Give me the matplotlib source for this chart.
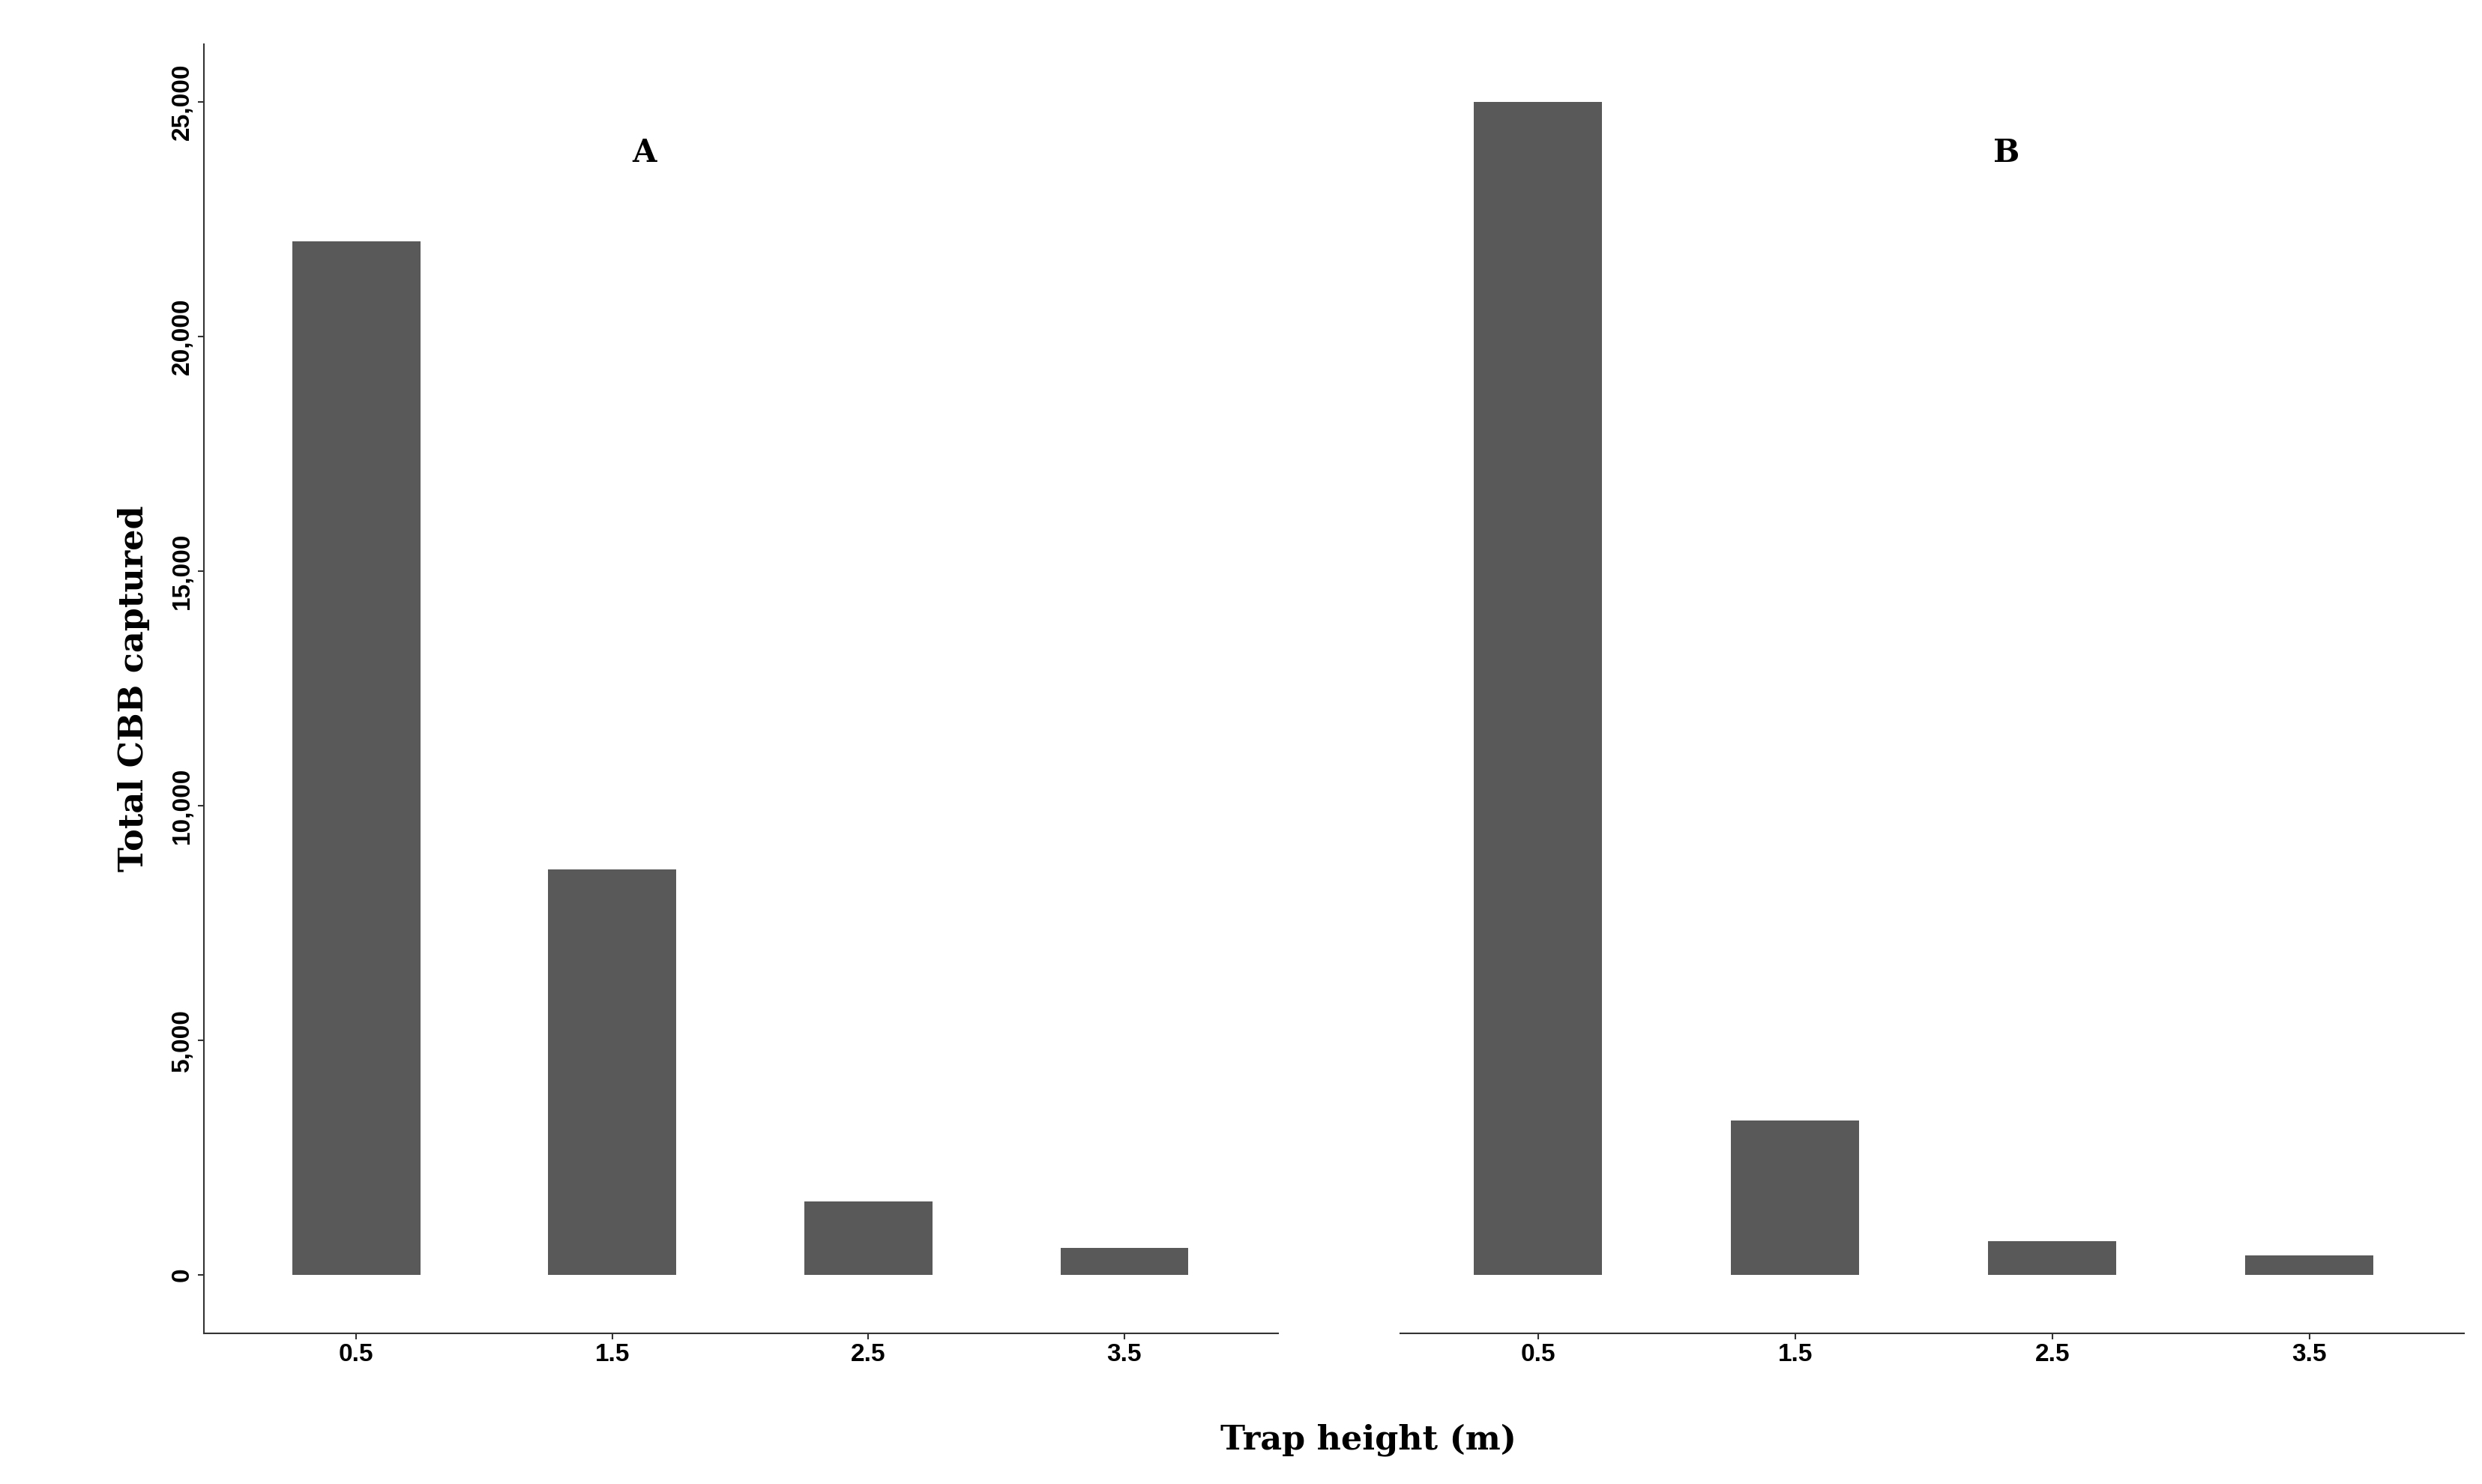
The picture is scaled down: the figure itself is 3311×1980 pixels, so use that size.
import matplotlib
matplotlib.use("Agg")
import matplotlib.pyplot as plt

heights = ["0.5", "1.5", "2.5", "3.5"]
panel_a = [22020, 8630, 1560, 575]
panel_b = [25000, 3280, 710, 405]
y_ticks = [0, 5000, 10000, 15000, 20000, 25000]

fig = plt.figure(figsize=(33.12, 19.8), dpi=100)
W = 1560.0; H = 935.0
bottom = 1 - 840 / H; top = 1 - 28 / H
axA = fig.add_axes([128 / W, bottom, (803 - 128) / W, top - bottom])
axB = fig.add_axes([880 / W, bottom, (1548 - 880) / W, top - bottom])
x = [1, 2, 3, 4]
for ax, vals, lab, xl in [(axA, panel_a, "A", (0.404, 4.6)), (axB, panel_b, "B", (0.466, 4.6))]:
    ax.bar(x, vals, width=0.5, color="#595959")
    ax.set_xlim(*xl)
    ax.set_ylim(-1250, 26220)
    ax.set_xticks(x)
    ax.set_xticklabels(heights, family="Liberation Sans", fontweight="bold", fontsize=24)
    ax.set_yticks(y_ticks)
    ax.set_yticklabels([f"{v:,}" for v in y_ticks], family="Liberation Sans",
                       fontweight="bold", fontsize=24, rotation=90, va="center")
    ax.tick_params(length=6, width=1.5, color="#333333")
    for s in ["top", "right"]:
        ax.spines[s].set_visible(False)
    for s in ["left", "bottom"]:
        ax.spines[s].set_linewidth(1.5)
        ax.spines[s].set_color("#333333")
    ax.text(0.4, 0.92 if lab else 0, lab, transform=ax.transAxes, ha="center", va="center",
            family="DejaVu Serif", fontweight="bold", fontsize=30)
axA.texts[0].set_position((0.41, 0.916))
axB.texts[0].set_position((0.57, 0.916))
axB.spines["left"].set_visible(False)
axB.tick_params(axis="y", left=False, labelleft=False)
axA.set_ylabel("Total CBB captured", family="DejaVu Serif", fontweight="bold", fontsize=32, labelpad=20)
fig.text(860 / W, 1 - 907 / H, "Trap height (m)", ha="center", va="center",
         family="DejaVu Serif", fontweight="bold", fontsize=32)
fig.savefig("out.png", dpi=100)
